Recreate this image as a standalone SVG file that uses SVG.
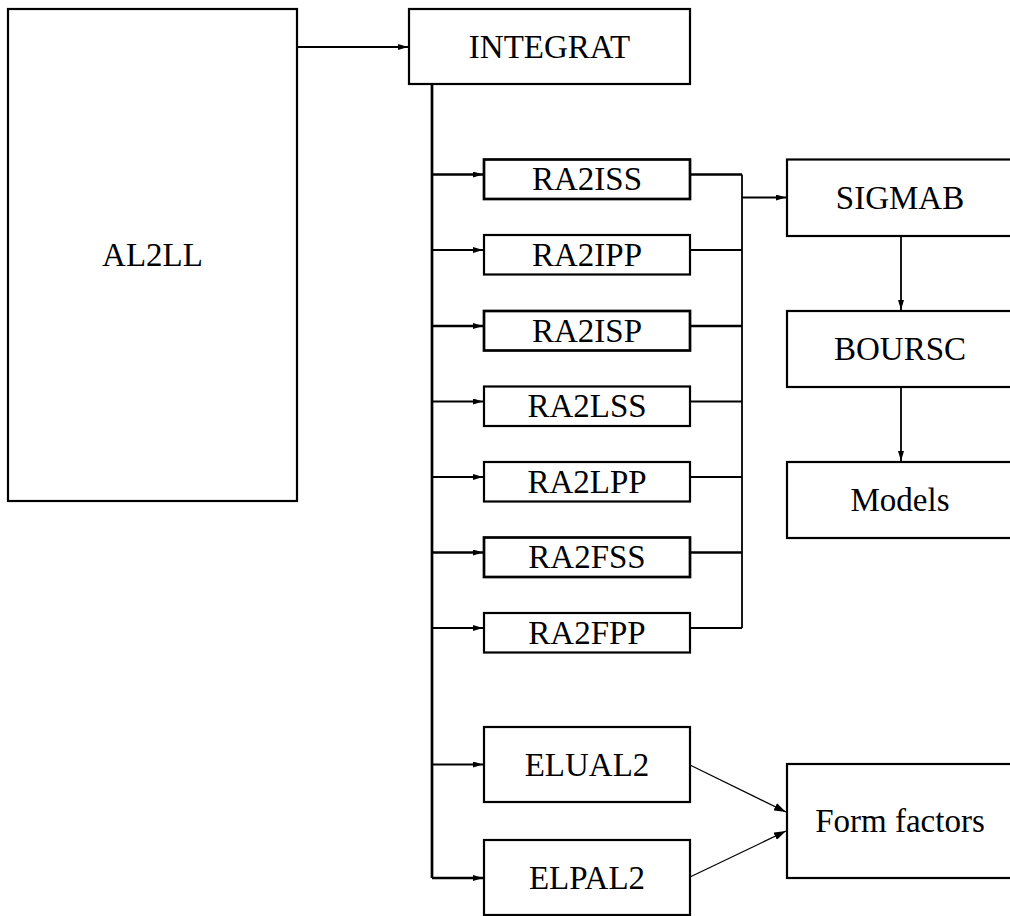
<svg xmlns="http://www.w3.org/2000/svg" width="1010" height="916" viewBox="0 0 1010 916">
<defs>
<style>
.box{fill:#fff;stroke:#000;stroke-width:2.2}
.boxb{fill:#fff;stroke:#000;stroke-width:2.7}
.lbl{font-family:"Liberation Serif","Times New Roman",serif;font-size:33px;fill:#000;text-anchor:middle}
.c{fill:none;stroke:#000;stroke-width:1.8}
.cb{fill:none;stroke:#000;stroke-width:2.5}
.ct{fill:none;stroke:#000;stroke-width:1.2}
.tr{fill:none;stroke:#000;stroke-width:2.7}
</style>
<marker id="ah" viewBox="0 0 10 6" refX="10" refY="3" markerWidth="10" markerHeight="6" markerUnits="userSpaceOnUse" orient="auto">
<path d="M0,0 L10,3 L0,6 Z" fill="#000"/>
</marker>
<marker id="ah2" viewBox="0 0 12 8" refX="12" refY="4" markerWidth="12" markerHeight="8" markerUnits="userSpaceOnUse" orient="auto">
<path d="M0,0 L12,4 L0,8 Z" fill="#000"/>
</marker>
</defs>
<rect width="1010" height="916" fill="#fff"/>

<g id="connectors">
<path class="c" d="M297,47 H408" marker-end="url(#ah)"/>
<path class="tr" d="M432,84 V878"/>
<path class="cb" d="M432,174.5 H483" marker-end="url(#ah)"/>
<path class="c" d="M432,250 H483" marker-end="url(#ah)"/>
<path class="cb" d="M432,326 H483" marker-end="url(#ah)"/>
<path class="c" d="M432,401.5 H483" marker-end="url(#ah)"/>
<path class="c" d="M432,477 H483" marker-end="url(#ah)"/>
<path class="cb" d="M432,552.5 H483" marker-end="url(#ah)"/>
<path class="c" d="M432,628 H483" marker-end="url(#ah)"/>
<path class="c" d="M432,764.5 H483" marker-end="url(#ah)"/>
<path class="cb" d="M432,878 H483" marker-end="url(#ah)"/>
<path class="cb" d="M690,174.5 H742"/>
<path class="c" d="M690,250 H742"/>
<path class="cb" d="M690,326 H742"/>
<path class="c" d="M690,401.5 H742"/>
<path class="c" d="M690,477 H742"/>
<path class="cb" d="M690,552.5 H742"/>
<path class="c" d="M690,628 H742"/>
<path class="c" d="M742,174.5 V628"/>
<path class="c" d="M742,197.5 H786" marker-end="url(#ah)"/>
<path class="c" d="M901,236 V310" marker-end="url(#ah)"/>
<path class="c" d="M901,387 V461" marker-end="url(#ah)"/>
<path class="ct" d="M690,765 L786,812" marker-end="url(#ah2)"/>
<path class="ct" d="M690,877 L786,831" marker-end="url(#ah2)"/>
</g>

<g id="AL2LL"><rect class="box" x="8" y="9" width="289" height="492"/><text class="lbl" x="152.5" y="266">AL2LL</text></g>
<g id="INTEGRAT"><rect class="box" x="409" y="9" width="281" height="75"/><text class="lbl" x="549.5" y="58">INTEGRAT</text></g>
<g id="RA2ISS"><rect class="boxb" x="484" y="159.5" width="206" height="39.5"/><text class="lbl" x="587" y="190">RA2ISS</text></g>
<g id="RA2IPP"><rect class="box" x="484" y="235" width="206" height="39.5"/><text class="lbl" x="587" y="265.5">RA2IPP</text></g>
<g id="RA2ISP"><rect class="boxb" x="484" y="311" width="206" height="39.5"/><text class="lbl" x="587" y="341.5">RA2ISP</text></g>
<g id="RA2LSS"><rect class="box" x="484" y="386.5" width="206" height="39.5"/><text class="lbl" x="587" y="417">RA2LSS</text></g>
<g id="RA2LPP"><rect class="box" x="484" y="462" width="206" height="39.5"/><text class="lbl" x="587" y="492.5">RA2LPP</text></g>
<g id="RA2FSS"><rect class="boxb" x="484" y="537.5" width="206" height="39.5"/><text class="lbl" x="587" y="568">RA2FSS</text></g>
<g id="RA2FPP"><rect class="box" x="484" y="613" width="206" height="39.5"/><text class="lbl" x="587" y="643.5">RA2FPP</text></g>
<g id="ELUAL2"><rect class="box" x="484" y="727" width="206" height="75"/><text class="lbl" x="587" y="776">ELUAL2</text></g>
<g id="ELPAL2"><rect class="box" x="484" y="840" width="206" height="75"/><text class="lbl" x="587" y="889">ELPAL2</text></g>
<g id="SIGMAB"><rect class="box" x="787" y="159.5" width="226" height="76.5"/><text class="lbl" x="900" y="209">SIGMAB</text></g>
<g id="BOURSC"><rect class="box" x="787" y="311" width="226" height="76"/><text class="lbl" x="900" y="360">BOURSC</text></g>
<g id="Models"><rect class="box" x="787" y="462" width="226" height="76"/><text class="lbl" x="900" y="511">Models</text></g>
<g id="FormFactors"><rect class="box" x="787" y="764" width="226" height="114"/><text class="lbl" x="900" y="832">Form factors</text></g>
</svg>
